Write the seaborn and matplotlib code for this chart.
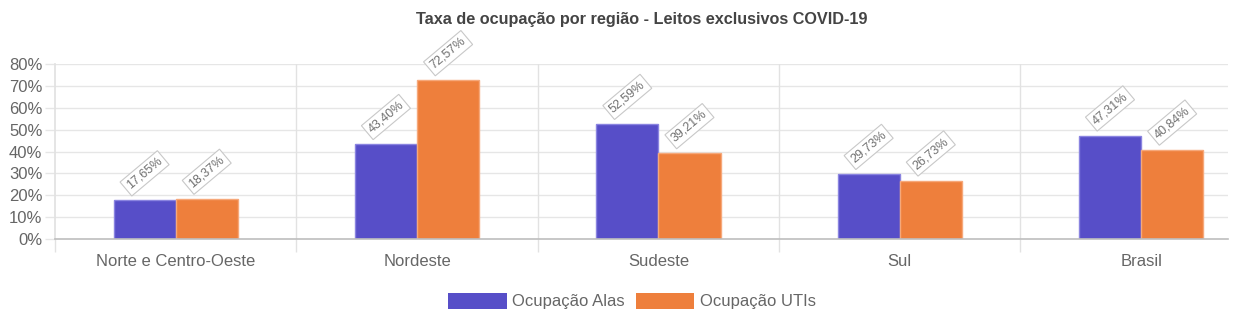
import matplotlib
matplotlib.use("Agg")
import matplotlib.pyplot as plt
import seaborn as sns
import pandas as pd
from matplotlib.ticker import FuncFormatter, MultipleLocator, FixedLocator

categories = ["Norte e Centro-Oeste", "Nordeste", "Sudeste", "Sul", "Brasil"]
series_names = ["Ocupação Alas", "Ocupação UTIs"]
alas = [17.65, 43.40, 52.59, 29.73, 47.31]
utis = [18.37, 72.57, 39.21, 26.73, 40.84]
title = "Taxa de ocupação por região - Leitos exclusivos COVID-19"

df = pd.DataFrame({
    "Região": categories * 2,
    "Série": [series_names[0]] * len(categories) + [series_names[1]] * len(categories),
    "Valor": alas + utis,
})

sns.set_theme(style="white")
plt.rcParams['font.family'] = ['Liberation Sans', 'DejaVu Sans']

colors = ["#574ec8", "#ee7f3c"]
edge = ["#8a84e0", "#f6a87a"]

fig = plt.figure(figsize=(12.41, 3.2), dpi=100)
ax = fig.add_axes([0.0443, 0.253, 0.9452, 0.547])

sns.barplot(data=df, x="Região", y="Valor", hue="Série", palette=colors,
            order=categories, hue_order=series_names, width=0.515,
            saturation=1, ax=ax, legend=True, linewidth=0)

for i, cont in enumerate(ax.containers):
    for bar in cont:
        bar.set_edgecolor(edge[i])
        bar.set_linewidth(1.0)
        h = bar.get_height()
        x = bar.get_x() + bar.get_width() / 2
        txt = f"{h:.2f}%".replace(".", ",")
        ax.annotate(txt, (x, h), xytext=(0, 19.5), textcoords="offset points",
                    rotation=40, ha="center", va="center", fontsize=9,
                    color="#707070", rotation_mode="anchor",
                    bbox=dict(boxstyle="square,pad=0.25", fc="white", ec="#c8c8c8", lw=0.8))

ax.set_ylim(0, 80)
ax.set_xlim(-0.5, len(categories) - 0.5 - 0.14)
ax.yaxis.set_major_locator(MultipleLocator(10))
ax.yaxis.set_major_formatter(FuncFormatter(lambda v, p: f"{int(v)}%"))
ax.set_xlabel("")
ax.set_ylabel("")

# grid
for v in range(10, 81, 10):
    ax.axhline(v, color="#e6e6e6", lw=1, zorder=0)
for b in [0.5, 1.5, 2.5, 3.5]:
    ax.axvline(b, color="#e2e2e2", lw=1, zorder=0)
ax.set_axisbelow(True)

for s in ["top", "right"]:
    ax.spines[s].set_visible(False)
ax.spines["left"].set_color("#e2e2e2")
ax.spines["bottom"].set_color("#bdbdbd")
ax.spines["bottom"].set_linewidth(1.2)

ax.xaxis.set_minor_locator(FixedLocator([-0.5, 0.5, 1.5, 2.5, 3.5]))
ax.tick_params(axis="x", which="minor", bottom=True, length=9, width=1, color="#e2e2e2")
ax.tick_params(axis="y", which="major", left=True, length=7, width=1, color="#e6e6e6",
               labelsize=12, labelcolor="#666666", pad=2)
ax.tick_params(axis="x", which="major", labelsize=12, labelcolor="#666666", length=0, pad=11)

ax.set_title(title, fontsize=11.7, fontweight="bold", color="#444444", pad=29)

leg = ax.legend(loc="center", bbox_to_anchor=(0.492, -0.354), ncol=2,
                frameon=False, fontsize=12, handlelength=3.5, handleheight=1.1,
                columnspacing=0.65, handletextpad=0.35)
for t in leg.get_texts():
    t.set_color("#666666")

fig.savefig("out.png", dpi=100)
